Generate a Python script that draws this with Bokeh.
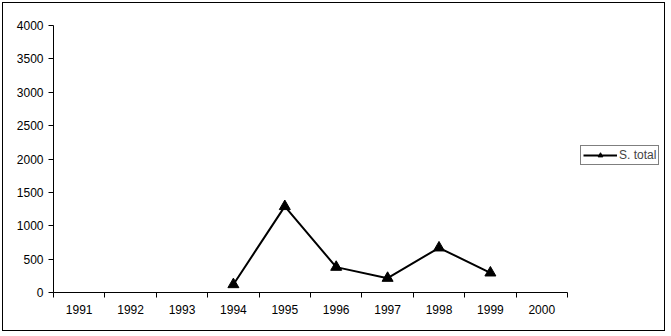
from bokeh.plotting import figure
from bokeh.models import FixedTicker, Range1d, Legend, LegendItem, ColumnDataSource
from bokeh.embed import file_html
from bokeh.resources import INLINE

years = ["1991", "1992", "1993", "1994", "1995", "1996", "1997", "1998", "1999", "2000"]
series_years = ["1994", "1995", "1996", "1997", "1998", "1999"]
s_total = [120, 1290, 380, 215, 670, 295]
y_ticks = [0, 500, 1000, 1500, 2000, 2500, 3000, 3500, 4000]

FONT = "Liberation Sans"

xpos = [years.index(y) + 0.5 for y in series_years]
src = ColumnDataSource(dict(x=xpos, y=s_total))

W, H = 663, 329
ML, MR, MT, MB = 50, 0, 22, 40
AXIS_PX = 514  # pixel length of the category axis
frame_w = W - ML - MR
x_end = len(years) * frame_w / AXIS_PX

p = figure(width=W, height=H, output_backend="svg", toolbar_location=None,
           x_range=Range1d(0, x_end), y_range=Range1d(0, 4000),
           min_border_left=ML, min_border_right=MR, min_border_top=MT, min_border_bottom=MB)
p.styles = {"border": "1px solid black", "margin-left": "2px", "margin-top": "2px"}
p.outline_line_color = None
p.xgrid.visible = False
p.ygrid.visible = False
p.background_fill_color = "white"
p.border_fill_color = "white"

r_line = p.line("x", "y", source=src, line_color="black", line_width=2)
r_mark = p.scatter("x", "y", source=src, marker="triangle", size=11,
                   fill_color="black", line_color="black")

# x axis: labels at category centres, ticks at boundaries
centers = [i + 0.5 for i in range(len(years))]
p.xaxis.ticker = FixedTicker(ticks=centers, minor_ticks=list(range(len(years) + 1)))
p.xaxis.major_label_overrides = {c: y for c, y in zip(centers, years)}
p.xaxis.bounds = (0, len(years))
p.xaxis.major_tick_line_color = None
p.xaxis.minor_tick_line_color = "black"
p.xaxis.minor_tick_out = 5
p.xaxis.minor_tick_in = 0
p.xaxis.axis_line_color = "black"
p.xaxis.major_label_standoff = 6

p.yaxis.ticker = FixedTicker(ticks=y_ticks)
p.yaxis.major_tick_out = 5
p.yaxis.major_tick_in = 0
p.yaxis.minor_tick_line_color = None
p.yaxis.axis_line_color = "black"
p.yaxis.major_label_standoff = 5

for ax in (p.xaxis, p.yaxis):
    ax.major_label_text_font = FONT
    ax.major_label_text_font_size = "12px"
    ax.major_label_text_color = "black"

legend = Legend(items=[LegendItem(label="S. total", renderers=[r_line, r_mark])],
                location=(527, 127), border_line_color="black", border_line_width=1,
                padding=2, spacing=0, margin=0, glyph_width=34, glyph_height=12,
                label_text_font=FONT, label_text_font_size="12px",
                label_standoff=2, label_height=12, background_fill_alpha=1)
p.add_layout(legend)

open("out.html", "w").write(file_html(p, INLINE))
